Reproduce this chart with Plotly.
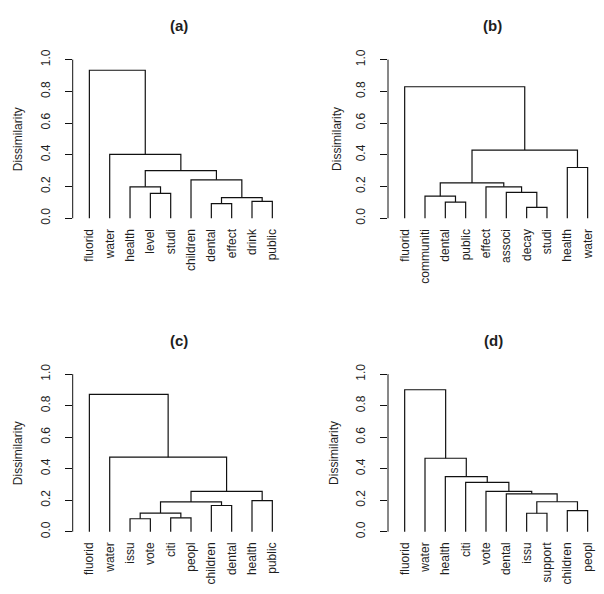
import plotly.graph_objects as go

# ---------------- data ----------------
# Leaf order (left to right) and merges: (left item, right item, height).
# An item is a leaf name or the 1-based number of an earlier merge.
a_leaves = ["fluorid", "water", "health", "level", "studi",
            "children", "dental", "effect", "drink", "public"]
a_merges = [("level", "studi", 0.157),
            ("dental", "effect", 0.092),
            ("drink", "public", 0.106),
            (2, 3, 0.130),
            ("health", 1, 0.198),
            ("children", 4, 0.242),
            (5, 6, 0.300),
            ("water", 7, 0.403),
            ("fluorid", 8, 0.933)]

b_leaves = ["fluorid", "communiti", "dental", "public", "effect",
            "associ", "decay", "studi", "health", "water"]
b_merges = [("decay", "studi", 0.068),
            ("dental", "public", 0.102),
            ("communiti", 2, 0.139),
            ("associ", 1, 0.163),
            ("effect", 4, 0.198),
            (3, 5, 0.223),
            ("health", "water", 0.320),
            (6, 7, 0.430),
            ("fluorid", 8, 0.829)]

c_leaves = ["fluorid", "water", "issu", "vote", "citi",
            "peopl", "children", "dental", "health", "public"]
c_merges = [("issu", "vote", 0.082),
            ("citi", "peopl", 0.088),
            (1, 2, 0.118),
            ("children", "dental", 0.166),
            (3, 4, 0.189),
            ("health", "public", 0.197),
            (5, 6, 0.256),
            ("water", 7, 0.473),
            ("fluorid", 8, 0.872)]

d_leaves = ["fluorid", "water", "health", "citi", "vote",
            "dental", "issu", "support", "children", "peopl"]
d_merges = [("issu", "support", 0.117),
            ("children", "peopl", 0.133),
            (1, 2, 0.190),
            ("dental", 3, 0.240),
            ("vote", 4, 0.256),
            ("citi", 5, 0.313),
            ("health", 6, 0.349),
            ("water", 7, 0.466),
            ("fluorid", 8, 0.901)]

panel_titles = ["(a)", "(b)", "(c)", "(d)"]
y_ticks = [0.0, 0.2, 0.4, 0.6, 0.8, 1.0]
y_tick_text = ["0.0", "0.2", "0.4", "0.6", "0.8", "1.0"]
y_title = "Dissimilarity"

# ---------------- helpers ----------------
def dendro_segments(leaves, merges):
    pos = {name: i + 1 for i, name in enumerate(leaves)}
    centers, heights = {}, {}
    xs, ys = [], []

    def info(item):
        if isinstance(item, int):
            return centers[item], heights[item]
        return pos[item], 0.0

    for k, (l, r, h) in enumerate(merges, start=1):
        xl, hl = info(l)
        xr, hr = info(r)
        xs += [xl, xl, xr, xr, None]
        ys += [hl, h, h, hr, None]
        centers[k] = (xl + xr) / 2
        heights[k] = h
    return xs, ys


W, H = 604, 594
FONT = "Liberation Sans, Arial, sans-serif"
TXT = "#1e1e1e"

def px_x(p):
    return p / W

def px_y(p):
    return 1 - p / H

# layout boxes in pixels: (left, right, top, bottom)
boxes = [
    (72.7, 289.0, 49.6, 222.1),
    (388.0, 603.9, 49.6, 222.1),
    (72.7, 289.0, 366.3, 537.6),
    (388.0, 603.9, 366.3, 537.6),
]
x_ranges = [[0.18, 10.82], [0.18, 10.80], [0.18, 10.82], [0.18, 10.80]]
title_pos = [(179, 22), (492, 22), (179, 339), (493, 339)]
ytitle_x = [18.3, 337, 18.3, 334]

panels = [(a_leaves, a_merges), (b_leaves, b_merges),
          (c_leaves, c_merges), (d_leaves, d_merges)]

fig = go.Figure()
layout = dict(
    width=W, height=H, autosize=False,
    margin=dict(l=0, r=0, t=0, b=0),
    paper_bgcolor="white", plot_bgcolor="white",
    showlegend=False,
    font=dict(family=FONT, size=12, color=TXT),
)
shapes = []
annotations = []

for i, ((leaves, merges), box) in enumerate(zip(panels, boxes)):
    n = i + 1
    xa = "x" if n == 1 else f"x{n}"
    ya = "y" if n == 1 else f"y{n}"
    xs, ys = dendro_segments(leaves, merges)
    fig.add_trace(go.Scatter(
        x=xs, y=ys, mode="lines",
        line=dict(color="#111111", width=1.2),
        xaxis=xa, yaxis=ya, hoverinfo="skip",
    ))
    l, r, t, b = box
    layout[f"xaxis{'' if n == 1 else n}"] = dict(
        domain=[px_x(l), px_x(r)],
        range=x_ranges[i],
        anchor=ya,
        showgrid=False, zeroline=False, showline=False,
        tickmode="array",
        tickvals=list(range(1, len(leaves) + 1)),
        ticktext=leaves,
        tickangle=-90,
        ticks="", ticklen=0,
        ticklabelstandoff=1,
        tickfont=dict(family=FONT, size=12, color=TXT),
        fixedrange=True,
    )
    layout[f"yaxis{'' if n == 1 else n}"] = dict(
        domain=[px_y(b), px_y(t)],
        range=[-0.04, 1.04],
        anchor=xa,
        showgrid=False, zeroline=False, showline=False,
        tickmode="array",
        tickvals=y_ticks, ticktext=y_tick_text,
        tickangle=-90,
        ticks="outside", ticklen=7, tickwidth=1, tickcolor="#111111",
        ticklabelstandoff=10,
        tickfont=dict(family=FONT, size=12, color=TXT),
        fixedrange=True,
    )
    # y axis line spanning only 0..1 (R style)
    shapes.append(dict(
        type="line", xref=f"{xa} domain", yref=ya,
        x0=0, x1=0, y0=y_ticks[0], y1=y_ticks[-1],
        line=dict(color="#111111", width=1),
    ))
    tx, ty = title_pos[i]
    annotations.append(dict(
        text=f"<b>{panel_titles[i]}</b>", xref="paper", yref="paper",
        x=px_x(tx), y=px_y(ty), showarrow=False,
        xanchor="center", yanchor="middle",
        font=dict(family=FONT, size=15, color=TXT),
    ))
    annotations.append(dict(
        text=y_title, xref="paper", yref=ya,
        x=px_x(ytitle_x[i]), y=0.5, showarrow=False,
        xanchor="center", yanchor="middle", textangle=-90,
        font=dict(family=FONT, size=12, color=TXT),
    ))

layout["shapes"] = shapes
layout["annotations"] = annotations
fig.update_layout(**layout)

post = (
    "document.body.style.margin='0';"
    "document.body.style.overflow='hidden';"
    "var d=document.getElementById('{plot_id}');"
    "d.style.position='absolute';d.style.left='0px';d.style.top='0px';"
)
fig.write_html("out.html", post_script=post,
               config={"displayModeBar": False})
